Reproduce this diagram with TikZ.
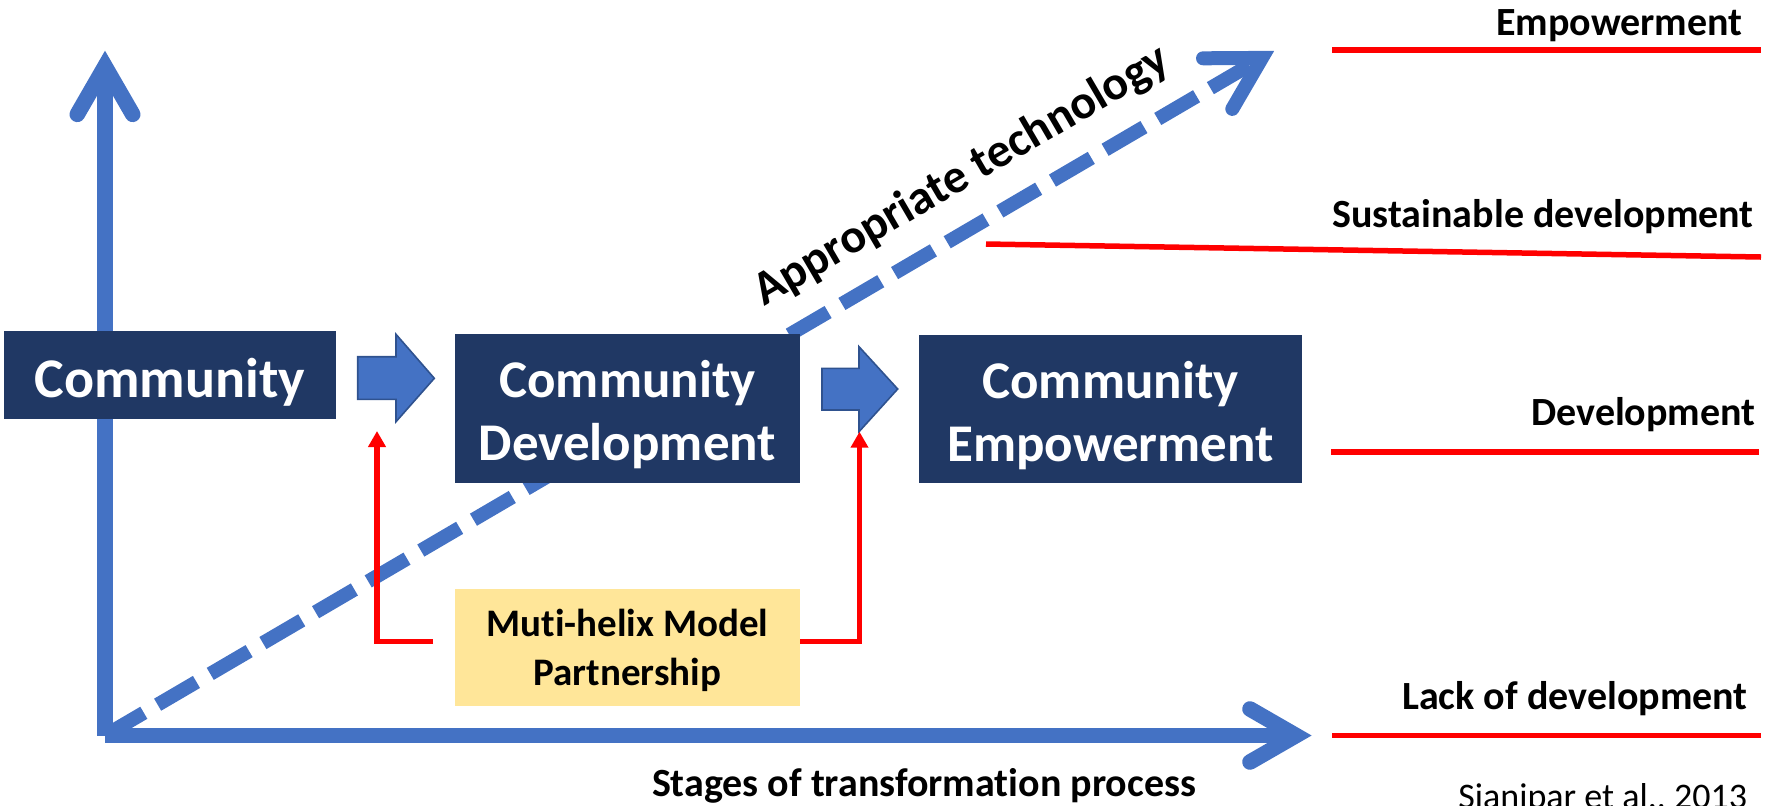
\documentclass[tikz,border=0pt]{standalone}
\usepackage{fontspec}
\setmainfont{Carlito}[Ligatures=NoCommon]
\usetikzlibrary{arrows.meta}
\definecolor{navy}{HTML}{203864}
\definecolor{pblue}{HTML}{4472C4}
\definecolor{pbord}{HTML}{2F528F}
\definecolor{pyel}{HTML}{FFE699}
\definecolor{pred}{HTML}{FF0000}
\begin{document}
\begin{tikzpicture}[x=0.5pt,y=-0.5pt,
  navybox/.style={fill=navy, inner sep=0pt},
  navytext/.style={text=white, inner sep=0pt, align=center,
    font=\fontsize{26.5pt}{31.5pt}\selectfont\bfseries},
  yelbox/.style={fill=pyel, inner sep=0pt},
  yeltext/.style={text=black, inner sep=0pt, align=center,
    font=\fontsize{19.5pt}{24.5pt}\selectfont\bfseries},
  axisline/.style={pblue, line width=7.8pt, line cap=butt},
  axishead/.style={pblue, line width=7.8pt, line cap=round, line join=miter},
  dashline/.style={pblue, line width=7pt, line cap=butt, dash pattern=on 22.5pt off 8pt},
  dashhead/.style={pblue, line width=7pt, line cap=round, line join=miter},
  blockarrow/.style={fill=pblue, draw=pbord, line width=0.8pt, line join=miter},
  redconn/.style={pred, line width=2.75pt, -{Triangle[width=8.5pt,length=8pt]}},
  redline/.style={pred, line width=2.75pt},
  lab/.style={inner sep=0pt, font=\fontsize{20pt}{24pt}\selectfont\bfseries},
]
\useasboundingbox (0,0) rectangle (1768,805);

% axes
\coordinate (O) at (105,735.5);
\coordinate (Yv) at (105,66.3);
\coordinate (Xv) at (1296,735.5);
\coordinate (Dv) at (1262,57.9);
\coordinate (Yl) at (77.3,114.3);
\coordinate (Yr) at (132.7,114.3);
\coordinate (Xu) at (1250,709);
\coordinate (Xd) at (1250,762);
\coordinate (Du) at (1203,58.3);
\coordinate (Dd) at (1232.3,108.9);

\draw[dashline] (O) -- (Dv);
\draw[dashhead] (Du) -- (Dv) -- (Dd);
\draw[axisline] (O) -- (Yv);
\draw[axishead] (Yl) -- (Yv) -- (Yr);
\draw[axisline] (O) -- (Xv);
\draw[axishead] (Xu) -- (Xv) -- (Xd);

% boxes
\node[navybox, minimum width=166pt, minimum height=43.75pt] (comm) at (170,374.75) {};
\node[navytext, font=\fontsize{28pt}{31.5pt}\selectfont\bfseries] (commt) at ([yshift=-3.5pt]comm.center) {Community};
\node[navybox, minimum width=172.5pt, minimum height=74.5pt] (cdev) at (627.5,408.5) {};
\node[navytext] (cdevt) at ([yshift=-3pt]cdev.center) {Community\\Development};
\node[navybox, minimum width=191.5pt, minimum height=74.15pt] (cemp) at (1110.5,409.2) {};
\node[navytext] (cempt) at ([yshift=-3pt]cemp.center) {Community\\Empowerment};
\node[yelbox, minimum width=172.5pt, minimum height=58.5pt] (muti) at (627.5,647.5) {};
\node[yeltext] (mutit) at ([yshift=-1.5pt]muti.center) {Muti-helix Model\\Partnership};

% block arrows
\draw[blockarrow] (357.7,356.7) -- (396,356.7) -- (396,334.3) -- (434.3,378.3)
  -- (396,421.7) -- (396,399.3) -- (357.7,399.3) -- cycle;
\draw[blockarrow] (822,368.3) -- (859,368.3) -- (859,346.7) -- (897.7,389)
  -- (859,431.7) -- (859,410) -- (822,410) -- cycle;

% red connectors
\coordinate (l1) at (433,641.7);
\coordinate (t1) at (377,431);
\coordinate (t2) at (859.5,431.7);
\draw[redconn] (l1) -| (t1);
\draw[redconn] (muti.east |- l1) -| (t2);

% appropriate technology
\node[rotate=30.3, anchor=base west, inner sep=0pt,
  font=\fontsize{24pt}{24pt}\selectfont\bfseries] (apt) at (764,307) {Appropriate technology};

% right-side levels
\node[lab, anchor=base east] (le) at (1743,35) {Empowerment};
\node[lab, anchor=base east] (ls) at (1754,227) {Sustainable development};
\node[lab, anchor=base east] (ld) at (1756,425) {Development};
\node[lab, anchor=base east] (ll) at (1748,709) {Lack of development};

\coordinate (e1) at (1332,50);   \coordinate (e2) at (1761,50);
\coordinate (s1) at (986,244);   \coordinate (s2) at (1761,257);
\coordinate (d1) at (1331,452);  \coordinate (d2) at (1759,452);
\coordinate (k1) at (1332,735.6);\coordinate (k2) at (1761,735.6);
\draw[redline] (e1) -- (e2);
\draw[redline] (s1) -- (s2);
\draw[redline] (d1) -- (d2);
\draw[redline] (k1) -- (k2);

% captions
\node[lab, anchor=base] (stages) at (924,796) {Stages of transformation process};
\node[inner sep=0pt, anchor=base west, font=\fontsize{18pt}{20pt}\selectfont] (src) at (1458,808) {Sianipar et al., 2013};
\end{tikzpicture}
\end{document}
